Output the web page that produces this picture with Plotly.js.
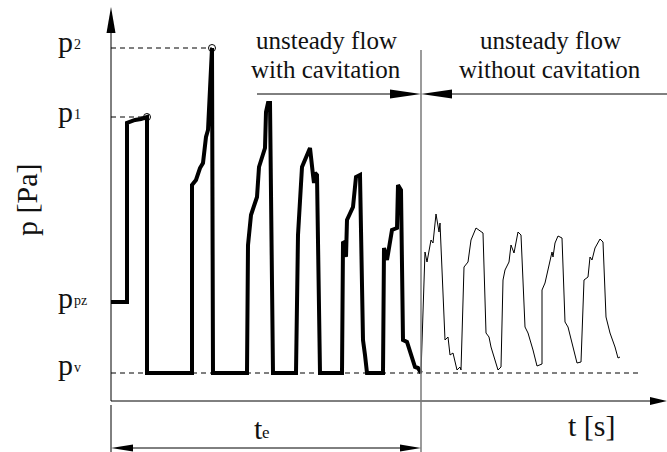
<!DOCTYPE html>
<html>
<head>
<meta charset="utf-8">
<script src="https://cdn.plot.ly/plotly-3.0.1.min.js"></script>
<style>html,body{margin:0;padding:0;background:#fff;}#chart{width:667px;height:452px;}</style>
</head>
<body>
<div id="chart"></div>
<script>
// time t (arbitrary units) and pressure p (arbitrary units)
// unsteady flow with cavitation (thick line)
const tCav = [0,16,16,24,30,36,36,81,81,85,89,92,95,97,101,102,136,137,140,146,148,154,155,157,159,162,185,187,191,199,202,203,204,206,209,231,232,234,235,236,242,245,249,252,254,256,272,273,276,281,286,287,290,292,296,304,307,310];
const pCav = [99,99,278,281,282,284,28,28,216,221,233,238,264,271,353,28,28,156,186,204,234,253,289,298,298,28,28,166,234,253,226,218,228,226,28,28,158,159,144,181,194,224,226,61,46,28,28,153,141,171,173,216,211,61,59,34,33,28];
// unsteady flow without cavitation (thin line)
const tFree = [310,314,316,320,322,325,328,329,334,337,339,342,346,349,350,353,357,360,365,372,375,378,380,387,390,392,394,398,400,403,407,410,414,417,422,426,431,431,434,439,441,442,444,447,451,454,457,461,466,470,473,477,479,481,484,489,492,495,499,504,507,509];
const pFree = [28,149,139,161,158,187,169,178,61,64,46,48,31,34,31,134,139,161,173,168,68,64,54,31,34,121,131,139,156,148,169,166,74,68,51,35,37,111,118,139,149,144,158,165,163,79,74,58,38,39,121,124,144,141,153,162,159,84,68,54,43,44];
// characteristic pressure levels
const levelMain = ['p','p','p','p'];
const levelSub = ['2','1','pz','v'];
const levelValues = [353,284,99,28];
const levelDashEnd = [101,36,null,529];
const peakT = [36,101];
const peakP = [284,353];
const tEnd = 310;       // end of cavitation phase, t_e
const tMax = 556;
const pTop = 394;

const serif = 'Liberation Serif';
const ink = '#111';
const big = 30;
const traces = [
  {x:tCav, y:pCav, mode:'lines', line:{color:'#000', width:4}, hoverinfo:'skip'},
  {x:tFree, y:pFree, mode:'lines', line:{color:'#000', width:1}, hoverinfo:'skip'},
  {x:peakT, y:peakP, mode:'markers', marker:{symbol:'circle-open', size:7, color:'#000', line:{width:1, color:'#000'}}, hoverinfo:'skip'}
];

const shapes = [];
levelValues.forEach((v,i)=>{
  if(levelDashEnd[i]!==null){
    shapes.push({type:'line', xref:'x', yref:'y', x0:0, x1:levelDashEnd[i], y0:v, y1:v, line:{color:'#000', width:1, dash:'5px,4px'}, layer:'below'});
  }
});
shapes.push({type:'line', xref:'x', yref:'y', x0:0, x1:0, y0:0, y1:370, line:{color:'#000', width:1}});
shapes.push({type:'path', xref:'x', yref:'y', path:'M -4.5,368 L 4.5,368 L 0,'+pTop+' Z', fillcolor:'#000', line:{width:0}});
shapes.push({type:'line', xref:'x', yref:'y', x0:0, x1:tMax-12, y0:0, y1:0, line:{color:'#000', width:1}});
shapes.push({type:'path', xref:'x', yref:'y', path:'M '+(tMax-17)+',4 L '+(tMax-17)+',-4 L '+tMax+',0 Z', fillcolor:'#000', line:{width:0}});
shapes.push({type:'line', xref:'x', yref:'y', x0:0, x1:0, y0:-4, y1:-51, line:{color:'#000', width:1}});
shapes.push({type:'line', xref:'x', yref:'y', x0:tEnd, x1:tEnd, y0:351, y1:-51, line:{color:'#7a7a7a', width:1.5}});
shapes.push({type:'line', xref:'x', yref:'y', x0:146, x1:tEnd-20, y0:307, y1:307, line:{color:'#000', width:1}});
shapes.push({type:'path', xref:'x', yref:'y', path:'M '+(tEnd-31)+',311.5 L '+(tEnd-31)+',302.5 L '+tEnd+',307 Z', fillcolor:'#000', line:{width:0}});
shapes.push({type:'line', xref:'x', yref:'y', x0:tEnd+20, x1:tMax, y0:307, y1:307, line:{color:'#000', width:1}});
shapes.push({type:'path', xref:'x', yref:'y', path:'M '+(tEnd+31)+',311.5 L '+(tEnd+31)+',302.5 L '+tEnd+',307 Z', fillcolor:'#000', line:{width:0}});
shapes.push({type:'line', xref:'x', yref:'y', x0:10, x1:tEnd-10, y0:-47, y1:-47, line:{color:'#000', width:1}});
shapes.push({type:'path', xref:'x', yref:'y', path:'M 22,-43.5 L 22,-50.5 L 0,-47 Z', fillcolor:'#000', line:{width:0}});
shapes.push({type:'path', xref:'x', yref:'y', path:'M '+(tEnd-21)+',-43.5 L '+(tEnd-21)+',-50.5 L '+tEnd+',-47 Z', fillcolor:'#000', line:{width:0}});

const labelY = [359.5,289.5,103.5,36.5];
const annotations = [];
levelMain.forEach((t,i)=>{
  annotations.push({x:-55, y:labelY[i], text:t, xanchor:'left', font:{family:serif, size:big, color:ink}});
  annotations.push({x:-39, y:labelY[i]-3, text:levelSub[i], xanchor:'left', font:{family:serif, size:14, color:ink}});
});
annotations.push({x:-85, y:201, text:'p [Pa]', textangle:-90, font:{family:serif, size:big, color:ink}});
annotations.push({x:481, y:-24, text:'t [s]', font:{family:serif, size:big, color:ink}});
annotations.push({x:141, y:-27, text:'t', xanchor:'left', font:{family:serif, size:big, color:ink}});
annotations.push({x:149, y:-31, text:'e', xanchor:'left', font:{family:serif, size:17, color:ink}});
const regimeText = [['unsteady flow','with cavitation',215],['unsteady flow','without cavitation',439]];
regimeText.forEach(r=>{
  annotations.push({x:r[2], y:361, text:r[0], font:{family:serif, size:25, color:ink}});
  annotations.push({x:r[2], y:332, text:r[1], font:{family:serif, size:25, color:ink}});
});
const annos = annotations.map(a=>Object.assign({xref:'x', yref:'y', showarrow:false, xanchor:'center', yanchor:'middle'}, a));

const layout = {
  width:667, height:452,
  margin:{l:0, r:0, t:0, b:0, pad:0},
  paper_bgcolor:'#fff', plot_bgcolor:'#fff',
  showlegend:false,
  xaxis:{range:[-111,556], visible:false},
  yaxis:{range:[-51,401], visible:false},
  shapes:shapes,
  annotations:annos
};
Plotly.newPlot('chart', traces, layout, {staticPlot:true});
</script>
</body>
</html>
